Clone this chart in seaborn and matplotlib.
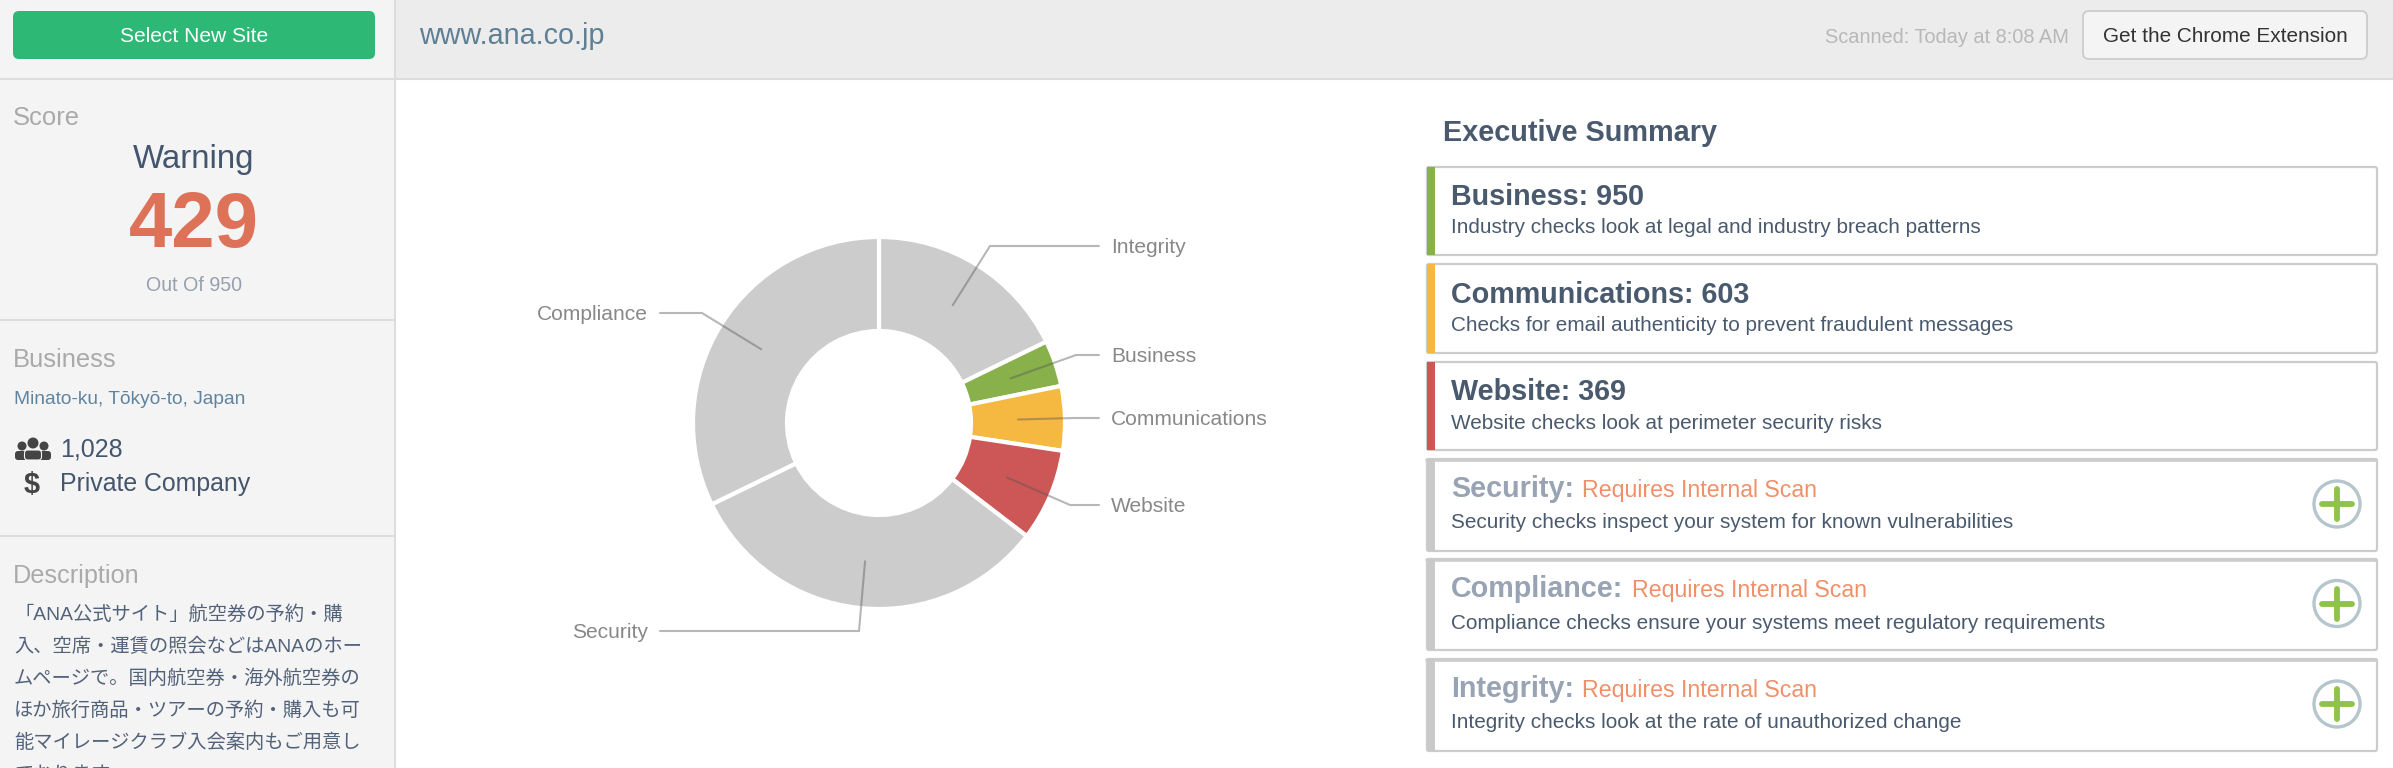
import numpy as np
import matplotlib
matplotlib.use('Agg')
import matplotlib.pyplot as plt
from matplotlib.patches import Rectangle, FancyBboxPatch, Circle
import seaborn as sns

# --- data ---
slice_names = ['Integrity', 'Business', 'Communications', 'Website', 'Security', 'Compliance']
slice_values = [17.8, 4.0, 5.6, 8.0, 32.4, 32.2]
slice_colors = ['#cccccc', '#88b04b', '#f5b942', '#cd5757', '#cccccc', '#cccccc']

card_titles = ['Business: 950', 'Communications: 603', 'Website: 369',
               'Security:', 'Compliance:', 'Integrity:']
card_texts = ['Industry checks look at legal and industry breach patterns',
              'Checks for email authenticity to prevent fraudulent messages',
              'Website checks look at perimeter security risks',
              'Security checks inspect your system for known vulnerabilities',
              'Compliance checks ensure your systems meet regulatory requirements',
              'Integrity checks look at the rate of unauthorized change']
card_bars = ['#88b04b', '#f5b942', '#cd5757', '#c9c9c9', '#c9c9c9', '#c9c9c9']

description_lines = ['「ANA公式サイト」航空券の予約・購',
                     '入、空席・運賃の照会などはANAのホー',
                     'ムページで。国内航空券・海外航空券の',
                     'ほか旅行商品・ツアーの予約・購入も可',
                     '能マイレージクラブ入会案内もご用意し',
                     'ております。']

# --- layout, in screenshot pixels ---
W, H = 2393, 768
PIE_X, PIE_Y = 879, 423
PIE_R = 186
RING = 94
card_tops = [167, 264, 362, 459, 559, 659]
card_bottoms = [255, 353, 450, 551, 650, 751]
title_base = [205, 303, 400, 497, 597, 697]
text_base = [233, 331, 429, 528, 629, 728]
requires_x = [None, None, None, 1582, 1632, 1582]
label_y = [246, 355, 418, 505, 631, 313]
label_knee = [990, 1076, 1074, 1070, 859, 702]

FONT = ['Liberation Sans', 'Noto Sans CJK JP', 'DejaVu Sans']

sns.set_theme(style='white')
plt.rcParams['font.family'] = FONT

fig = plt.figure(figsize=(W / 100, H / 100), dpi=100, facecolor='white')
ax = fig.add_axes([0, 0, 1, 1])


def label(x, y, s, px, color, weight='normal', ha='left', va='baseline'):
    ax.text(x, y, s, fontsize=px * 0.72, color=color, fontweight=weight,
            ha=ha, va=va, zorder=6)


def button(x0, y0, x1, y1, face, edge='none', lw=0, rad=6):
    ax.add_patch(FancyBboxPatch((x0 + rad, y0 + rad), x1 - x0 - 2 * rad, y1 - y0 - 2 * rad,
                                boxstyle='round,pad=%d,rounding_size=%d' % (rad, rad),
                                fc=face, ec=edge, lw=lw, zorder=3))


# donut; the y axis is inverted later, so counterclock here reads clockwise on screen
wedges, _ = ax.pie(slice_values, colors=sns.color_palette(slice_colors), startangle=-90,
                   counterclock=True, center=(PIE_X, PIE_Y), radius=PIE_R, frame=True,
                   wedgeprops=dict(width=RING, edgecolor='white', linewidth=3))
ax.set_xlim(0, W)
ax.set_ylim(H, 0)
ax.set_aspect('auto')
ax.axis('off')
for w in wedges:
    w.set_zorder(2)

# leader lines start in the middle of the ring
for w, name, ly, knee in zip(wedges, slice_names, label_y, label_knee):
    mid = np.deg2rad((w.theta1 + w.theta2) / 2)
    r = PIE_R - RING / 2
    sx = PIE_X + r * np.cos(mid)
    sy = PIE_Y + r * np.sin(mid)
    left = knee < PIE_X
    end = 660 if left else 1099
    ax.plot([sx, knee, end], [sy, ly, ly], color='#555555', alpha=0.42, lw=1.5, zorder=4,
            solid_joinstyle='miter')
    label(648 if left else 1111, ly + 7, name, 21, '#888888', ha='right' if left else 'left')

# header and sidebar
ax.add_patch(Rectangle((0, 0), 395, H, fc='#f4f4f4', ec='none', zorder=1))
ax.add_patch(Rectangle((396, 0), W - 396, 79, fc='#ececec', ec='none', zorder=1))
ax.plot([395, 395], [0, H], color='#dddddd', lw=1.5, zorder=2)
for y, x1 in [(79, W), (320, 395), (536, 395)]:
    ax.plot([0, x1], [y, y], color='#dddddd', lw=1.5, zorder=2)

button(13, 11, 375, 59, '#2db875')
label(194, 35, 'Select New Site', 21, 'white', ha='center', va='center_baseline')
label(419, 44, 'www.ana.co.jp', 28.8, '#5f7f95')
label(1825, 43, 'Scanned: Today at 8:08 AM', 20, '#b8b8b8')
button(2083, 11, 2367, 59, '#f4f4f4', '#cccccc', 1.3)
label(2225, 35, 'Get the Chrome Extension', 20.8, '#333333', ha='center', va='center_baseline')

label(13, 125, 'Score', 25.6, '#aaaaaa')
label(194, 168, 'Warning', 33, '#43566e', ha='center')
label(194, 247, '429', 78, '#dd7258', weight='bold', ha='center')
label(194, 291, 'Out Of 950', 19.7, '#98a0ad', ha='center')
label(13, 367, 'Business', 25.6, '#aaaaaa')
label(14, 404, 'Minato-ku, Tōkyō-to, Japan', 19.1, '#5f84a0')
label(60, 456, '1,028', 25, '#43566e')
label(60, 491, 'Private Company', 24.9, '#43566e')
label(32, 493, '$', 29, '#444444', weight='bold', ha='center')

# people icon
for cx, hy, hr, bw, top in [(22, 446, 4.5, 14, 451), (44, 446, 4.5, 14, 451), (33, 443, 5.5, 17, 450)]:
    ax.add_patch(Circle((cx, hy), hr, fc='#444444', ec='none', zorder=5))
    ax.add_patch(FancyBboxPatch((cx - bw / 2 + 3, top + 3), bw - 6, 460 - top - 6,
                                boxstyle='round,pad=3,rounding_size=3',
                                fc='#444444', ec='#f4f4f4' if cx == 33 else 'none', lw=0.8, zorder=5))

label(13, 583, 'Description', 25.3, '#aaaaaa')
for i, line in enumerate(description_lines):
    label(14, 620 + 32 * i, line, 19.3, '#52627a')

# executive summary
label(1443, 141, 'Executive Summary', 28.9, '#4a5a6e', weight='bold')
for i in range(len(card_titles)):
    top, bottom = card_tops[i], card_bottoms[i]
    grey = requires_x[i] is not None
    button(1427, top, 2377, bottom, 'white', '#cccccc', 1.6, rad=2)
    if grey:
        ax.plot([1427, 2376], [top + 0.5, top + 0.5], color='#cccccc', lw=2.6, zorder=4)
    ax.add_patch(Rectangle((1427, top), 8, bottom - top, fc=card_bars[i], ec='none', zorder=4))
    label(1451, title_base[i], card_titles[i], 28.7, '#98a3b3' if grey else '#4a5a6e', weight='bold')
    label(1451, text_base[i], card_texts[i], 20.75, '#4a5a6e')
    if grey:
        label(requires_x[i], title_base[i], 'Requires Internal Scan', 23.1, '#f0906a')
        cy = (top + bottom) / 2 - 1
        ax.add_patch(Circle((2337, cy), 23, fc='white', ec='#b5c6cc', lw=2.4, zorder=5))
        ax.plot([2322, 2352], [cy, cy], color='#8fc249', lw=4.2, solid_capstyle='round', zorder=6)
        ax.plot([2337, 2337], [cy - 15, cy + 15], color='#8fc249', lw=4.2, solid_capstyle='round', zorder=6)

fig.savefig('out.png', dpi=100, facecolor='white')
